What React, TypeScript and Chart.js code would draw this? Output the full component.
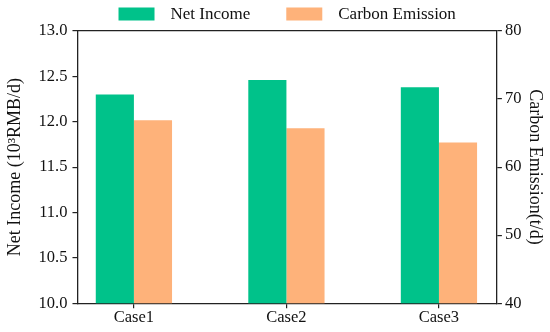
import React, { useEffect, useRef } from "react";
import { Chart, registerables } from "chart.js";

Chart.register(...registerables);

const categories = ["Case1", "Case2", "Case3"];
const netIncome = [12.3, 12.46, 12.38];
const carbonEmission = [66.9, 65.7, 63.6];
const leftTicks = [10.0, 10.5, 11.0, 11.5, 12.0, 12.5, 13.0];
const rightTicks = [40, 50, 60, 70, 80];
const seriesColors = ["rgb(0,194,138)", "rgb(254,178,122)"];

const FONT = "'Liberation Serif', 'Times New Roman', serif";

const topLegend = {
  id: "topLegend",
  afterDraw(chart: any) {
    const { ctx, chartArea } = chart;
    const size = 17;
    ctx.save();
    ctx.font = `${size}px ${FONT}`;
    const items = chart.data.datasets.map((d: any) => ({
      text: d.label as string,
      color: d.backgroundColor as string,
      w: ctx.measureText(d.label).width,
    }));
    const boxW = 36;
    const boxH = 13;
    const gapBT = 16;
    const gapItems = 36;
    const total =
      items.reduce((s: number, it: any) => s + boxW + gapBT + it.w, 0) +
      gapItems * (items.length - 1);
    let x = (chartArea.left + chartArea.right) / 2 - total / 2;
    const cy = 14;
    ctx.textBaseline = "middle";
    ctx.textAlign = "left";
    for (const it of items) {
      ctx.fillStyle = it.color;
      ctx.fillRect(x, cy - boxH / 2, boxW, boxH);
      x += boxW + gapBT;
      ctx.fillStyle = "#111";
      ctx.fillText(it.text, x, cy + 1);
      x += it.w + gapItems;
    }
    ctx.restore();
  },
};

export default function App() {
  const ref = useRef<HTMLCanvasElement | null>(null);
  useEffect(() => {
    document.body.style.margin = "0";
    const ctx = ref.current!.getContext("2d")!;
    const tickFont = { family: FONT, size: 16.5 };
    const titleFont = { family: FONT, size: 18 };
    const axisColor = "#222";
    const chart = new Chart(ctx, {
      type: "bar",
      data: {
        datasets: [
          {
            label: "Net Income",
            data: categories.map((_, i) => ({ x: i, y: netIncome[i] })),
            backgroundColor: seriesColors[0],
            yAxisID: "y",
            xAxisID: "x",
            categoryPercentage: 0.5,
            barPercentage: 1,
          },
          {
            label: "Carbon Emission",
            data: categories.map((_, i) => ({ x: i, y: carbonEmission[i] })),
            backgroundColor: seriesColors[1],
            yAxisID: "y1",
            xAxisID: "x",
            categoryPercentage: 0.5,
            barPercentage: 1,
          },
        ],
      },
      plugins: [topLegend],
      options: {
        responsive: false,
        animation: false,
        layout: { padding: { left: 4, right: 2, top: 31, bottom: 4 } },
        plugins: {
          legend: { display: false },
          tooltip: { enabled: false },
        },
        scales: {
          x: {
            type: "linear",
            min: -0.37,
            max: 2.38,
            offset: false,
            afterBuildTicks: (s: any) => {
              s.ticks = categories.map((_, i) => ({ value: i }));
            },
            ticks: {
              color: "#111",
              font: tickFont,
              padding: 0,
              maxRotation: 0,
              callback: (v: any) => categories[v as number] ?? "",
            },
            grid: {
              offset: false,
              drawOnChartArea: false,
              drawTicks: true,
              tickLength: 5,
              color: axisColor,
              lineWidth: 1.2,
            },
            border: { display: true, color: axisColor, width: 1.3 },
          },
          x2: {
            type: "linear",
            position: "top",
            min: -0.37,
            max: 2.38,
            offset: false,
            ticks: { display: false },
            grid: { drawOnChartArea: false, drawTicks: false, display: true },
            border: { display: true, color: axisColor, width: 1.3 },
          },
          y: {
            type: "linear",
            position: "left",
            min: 10,
            max: 13,
            afterBuildTicks: (s: any) => {
              s.ticks = leftTicks.map((v) => ({ value: v }));
            },
            ticks: {
              color: "#111",
              font: tickFont,
              padding: 5,
              callback: (v: any) => Number(v).toFixed(1),
            },
            grid: {
              drawOnChartArea: false,
              drawTicks: true,
              tickLength: 5,
              color: axisColor,
              lineWidth: 1.2,
            },
            border: { display: true, color: axisColor, width: 1.3 },
            title: {
              display: true,
              text: "Net Income (10³RMB/d)",
              color: "#111",
              font: titleFont,
              padding: { top: 0, bottom: 8 },
            },
          },
          y1: {
            type: "linear",
            position: "right",
            min: 40,
            max: 80,
            afterBuildTicks: (s: any) => {
              s.ticks = rightTicks.map((v) => ({ value: v }));
            },
            ticks: {
              color: "#111",
              font: tickFont,
              padding: 3,
              callback: (v: any) => String(v),
            },
            grid: {
              drawOnChartArea: false,
              drawTicks: true,
              tickLength: 5,
              color: axisColor,
              lineWidth: 1.2,
            },
            border: { display: true, color: axisColor, width: 1.3 },
            title: {
              display: true,
              text: "Carbon Emission(t/d)",
              color: "#111",
              font: titleFont,
              padding: { top: 2, bottom: 0 },
            },
          },
        },
      },
    });
    return () => chart.destroy();
  }, []);
  return <canvas ref={ref} width={550} height={332} />;
}
